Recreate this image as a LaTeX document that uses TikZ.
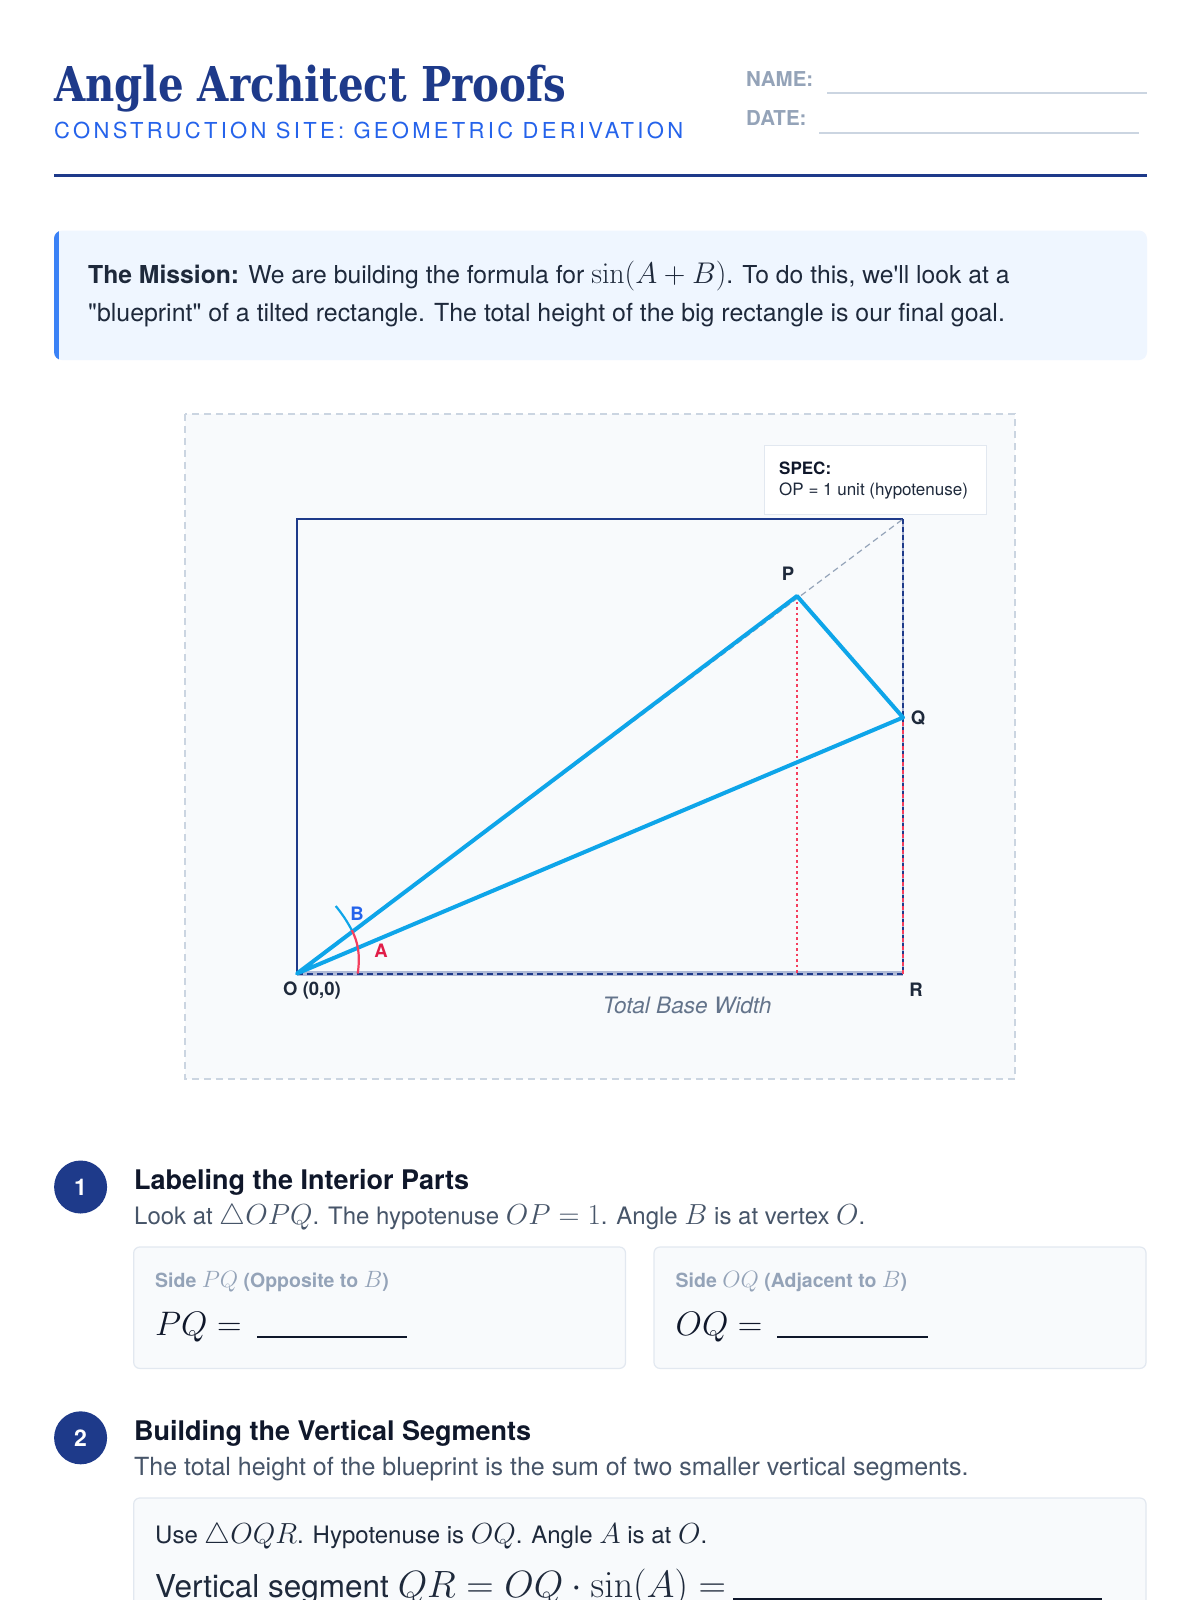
\RequirePackage{fix-cm}
\documentclass[tikz,border=0pt]{standalone}
\usepackage{graphicx}
\usepackage[no-math]{fontspec}
\setmainfont{TeX Gyre Heros}[Ligatures=TeXOff]
\newfontfamily\titlefont{DejaVu Serif}
\newfontfamily\spacedfont[LetterSpace=15]{TeX Gyre Heros}
\newcommand\km[2]{{\fontsize{#1}{#1}\selectfont$#2$}}
\definecolor{navy}{HTML}{1E3A8A}
\definecolor{blueA}{HTML}{2563EB}
\definecolor{accent}{HTML}{3B82F6}
\definecolor{slateD}{HTML}{0F172A}
\definecolor{slateE}{HTML}{1E293B}
\definecolor{slateF}{HTML}{475569}
\definecolor{slateG}{HTML}{64748B}
\definecolor{slateH}{HTML}{94A3B8}
\definecolor{slateI}{HTML}{CBD5E1}
\definecolor{slateJ}{HTML}{E2E8F0}
\definecolor{slateK}{HTML}{F8FAFC}
\definecolor{blueL}{HTML}{EFF6FF}
\definecolor{sky}{HTML}{0EA5E9}
\definecolor{rose}{HTML}{F43F5E}
\definecolor{roseD}{HTML}{E11D48}
\tikzset{
  txt/.style={anchor=base west, inner sep=0pt},
  ptlabel/.style={inner sep=0pt, text=slateE, font=\bfseries\fontsize{18.5}{22}\selectfont},
  card/.style={draw=slateJ, fill=slateK, rounded corners=6pt, line width=1.2pt},
  badge/.style={circle, fill=navy, minimum size=53pt, inner sep=0pt, text=white, font=\bfseries\fontsize{23}{27}\selectfont},
  heading/.style={txt, text=slateD, font=\bfseries\fontsize{27}{32}\selectfont},
  subtext/.style={txt, text=slateF, font=\fontsize{24.5}{29}\selectfont},
  cardlabel/.style={txt, text=slateH, font=\bfseries\fontsize{19.5}{23}\selectfont},
  blank/.style={slateD, line width=1.6pt},
  seg/.style={sky, line width=4pt, line cap=round, line join=round}
}
\begin{document}
\begin{tikzpicture}[x=1pt,y=1pt]
\useasboundingbox (0,0) rectangle (1200,-1600);
\clip (0,0) rectangle (1200,-1600);
\fill[white] (0,0) rectangle (1200,-1600);

% ---------- header ----------
\node[txt, text=navy] (title) at (54,-102) {\scalebox{0.84}[1]{\titlefont\bfseries\fontsize{48}{56}\selectfont Angle Architect Proofs}};
\node[txt, text=blueA] (subtitle) at (54,-138.5) {\spacedfont\fontsize{22}{26}\selectfont CONSTRUCTION SITE: GEOMETRIC DERIVATION};
\node[txt, text=slateH, font=\bfseries\fontsize{20.5}{24}\selectfont] (namel) at (746,-86.5) {NAME:};
\node[txt, text=slateH, font=\bfseries\fontsize{20.5}{24}\selectfont] (datel) at (746,-125.5) {DATE:};
\coordinate (n1) at (827,-93); \coordinate (n2) at (1147,-93);
\coordinate (d1) at (819,-133); \coordinate (d2) at (1139,-133);
\draw[slateI, line width=1.5pt] (n1) -- (n2);
\draw[slateI, line width=1.5pt] (d1) -- (d2);
\coordinate (r1) at (54,-175.5); \coordinate (r2) at (1147,-175.5);
\draw[navy, line width=3pt] (r1) -- (r2);

% ---------- mission ----------
\fill[blueL, rounded corners=8pt] (54,-230.6) rectangle (1147,-360);
\begin{scope}
\clip[rounded corners=8pt] (54,-230.6) rectangle (1147,-360);
\fill[accent] (54,-230.6) rectangle (58.5,-360);
\end{scope}
\node[txt, text=slateE, font=\fontsize{24.7}{29}\selectfont] (m1) at (88,-283.5) {\textbf{The Mission:} We are building the formula for \km{29.9}{\sin(A+B)}. To do this, we'll look at a};
\node[txt, text=slateE, font=\fontsize{24.9}{29}\selectfont] (m2) at (88,-321) {"blueprint" of a tilted rectangle. The total height of the big rectangle is our final goal.};

% ---------- diagram ----------
\draw[slateI, line width=2pt, dash pattern=on 7pt off 5pt, fill=slateK] (185,-414) rectangle (1015,-1079);

\coordinate (O) at (297,-973.5);
\coordinate (P) at (797,-596);
\coordinate (Q) at (903,-717.5);
\coordinate (R) at (903,-973.5);
\coordinate (T) at (903,-519);
\coordinate (L) at (297,-519);
\coordinate (F) at (797,-973.5);

\draw[navy, line width=2.5pt] (O) -- (L) -- (T);
\draw[navy!40, line width=2.5pt] (T) -- (R);
\draw[navy, line width=2.5pt, dash pattern=on 5pt off 3pt] (T) -- (R);
\draw[navy!35, line width=5pt] (O) -- (R);
\draw[navy, line width=2pt, dash pattern=on 6pt off 4pt] (O) -- (R);
\draw[rose, line width=2.2pt, dash pattern=on 4pt off 4pt, dash phase=4pt] (Q) -- (R);
\draw[slateH, line width=1.2pt, dash pattern=on 6pt off 4pt] (O) -- (T);
\draw[rose, line width=2.5pt, dash pattern=on 2.5pt off 3pt] (P) -- (F);

\draw[seg] (O) -- (P) -- (Q) -- cycle;

\coordinate (a0) at (357.7,-973.5);
\coordinate (a1) at (351.7,-930);
\coordinate (a2) at (335.7,-906);
\draw[rose, line width=2.2pt] (a0) .. controls (360.5,-955) and (358,-942) .. (a1);
\draw[sky, line width=2.2pt] (a1) .. controls (347,-921) and (341.5,-913) .. (a2);

\node[ptlabel, text=blueA] (lb) at (357,-914) {B};
\node[ptlabel, text=roseD] (la) at (381,-951) {A};
\node[ptlabel] (lp) at (788,-573.5) {P};
\node[ptlabel] (lq) at (918,-718) {Q};
\node[ptlabel] (lr) at (916,-990) {R};
\node[ptlabel] (lo) at (312,-990) {O (0,0)};
\node[inner sep=0pt, text=slateG, font=\itshape\fontsize{22.6}{26}\selectfont] (tbw) at (687,-1005) {Total Base Width};

\node[draw=slateJ, fill=white, line width=1pt, minimum width=222pt, minimum height=69pt, anchor=north west, inner sep=0pt] (spec) at (764,-445) {};
\node[txt, text=slateD, font=\bfseries\fontsize{17}{20}\selectfont] (spec1) at (779,-474) {SPEC:};
\node[txt, text=slateE, font=\fontsize{17}{20}\selectfont] (spec2) at (779,-495) {OP = 1 unit (hypotenuse)};

% ---------- section 1 ----------
\node[badge] (b1) at (80.6,-1187) {1};
\node[heading] (h1) at (134,-1189.5) {Labeling the Interior Parts};
\node[subtext, font=\fontsize{24}{28}\selectfont] (s1) at (134,-1224.5) {Look at \km{29}{\triangle OPQ}. The hypotenuse \km{29}{OP=1}. Angle \km{29}{B} is at vertex \km{29}{O}.};
\draw[card] (133.7,-1247) rectangle (625.5,-1368.4);
\draw[card] (654,-1247) rectangle (1146,-1368.4);
\node[cardlabel] (c1) at (155,-1287) {Side \km{23.6}{PQ} (Opposite to \km{23.6}{B})};
\node[cardlabel] (c2) at (675.5,-1287) {Side \km{23.6}{OQ} (Adjacent to \km{23.6}{B})};
\node[txt, text=slateD, font=\fontsize{34}{40}\selectfont] (e1) at (155,-1335) {$PQ=$};
\node[txt, text=slateD, font=\fontsize{34}{40}\selectfont] (e2) at (675.5,-1335) {$OQ=$};
\coordinate (u1) at (257,-1337); \coordinate (u2) at (407,-1337);
\coordinate (u3) at (777,-1337); \coordinate (u4) at (928,-1337);
\draw[blank] (u1) -- (u2);
\draw[blank] (u3) -- (u4);

% ---------- section 2 ----------
\node[badge] (b2) at (80.6,-1437.8) {2};
\node[heading] (h2) at (134,-1440) {Building the Vertical Segments};
\node[subtext, font=\fontsize{25}{29}\selectfont] (s2) at (134,-1475) {The total height of the blueprint is the sum of two smaller vertical segments.};
\draw[card] (133.7,-1498) rectangle (1146,-1650);
\node[txt, text=slateE, font=\fontsize{24}{28}\selectfont] (s3) at (155,-1543) {Use \km{29}{\triangle OQR}. Hypotenuse is \km{29}{OQ}. Angle \km{29}{A} is at \km{29}{O}.};
\node[txt, text=slateE, font=\fontsize{31.5}{37}\selectfont] (s4) at (155,-1597.5) {Vertical segment \km{38}{QR=OQ\cdot\sin(A)=}};
\coordinate (u5) at (733,-1599); \coordinate (u6) at (1102,-1599);
\draw[blank] (u5) -- (u6);
\end{tikzpicture}
\end{document}
